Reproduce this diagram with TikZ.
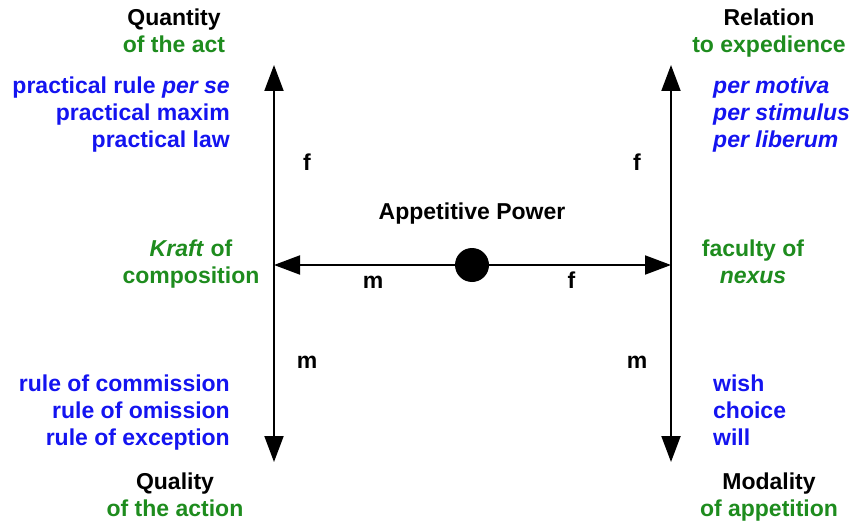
\documentclass[tikz,border=0pt]{standalone}
\usepackage{fontspec}
\setmainfont{Liberation Sans}
\usetikzlibrary{arrows.meta}

\definecolor{itemblue}{RGB}{20,20,240}
\definecolor{sidegreen}{RGB}{30,140,30}

\tikzset{
  lbl/.style={font=\fontsize{23pt}{27pt}\selectfont\bfseries, inner sep=0pt},
  axis/.style={line width=2pt, -{Triangle[length=26pt,width=19pt]}},
}

\begin{document}
\begin{tikzpicture}[x=1pt, y=-1pt]
  \useasboundingbox (0,0) rectangle (854,524);
  % centre of the power and the ends of the two axes
  \node[circle, fill, minimum size=34pt, inner sep=0pt] (power) at (472,265) {};
  \node[lbl, anchor=north] (powername) at (472,203) {Appetitive Power};
  \coordinate (left) at (274,265);
  \coordinate (right) at (671,265);
  \coordinate (lefttop) at (274,65);
  \coordinate (leftbot) at (274,462);
  \coordinate (righttop) at (671,65);
  \coordinate (rightbot) at (671,462);

  \draw[axis] (power.center) -- node[lbl, anchor=base, yshift=-23pt] (hm) {m} (left);
  \draw[axis] (power.center) -- node[lbl, anchor=base, yshift=-23pt] (hf) {f} (right);
  \draw[axis] (left) -- node[lbl, anchor=base, xshift=33pt, yshift=-6pt] (lf) {f} (lefttop);
  \draw[axis] (left) -- node[lbl, anchor=base, xshift=33pt, yshift=-5pt] (lm) {m} (leftbot);
  \draw[axis] (right) -- node[lbl, anchor=base, xshift=-34pt, yshift=-6pt] (rf) {f} (righttop);
  \draw[axis] (right) -- node[lbl, anchor=base, xshift=-34pt, yshift=-5pt] (rm) {m} (rightbot);

  % headings
  \node[lbl, anchor=north, align=center] (quantity) at (174,9)
    {Quantity\\\textcolor{sidegreen}{of the act}};
  \node[lbl, anchor=north, align=center] (relation) at (769,9)
    {Relation\\\textcolor{sidegreen}{to expedience}};
  \node[lbl, anchor=north, align=center] (quality) at (175,473)
    {Quality\\\textcolor{sidegreen}{of the action}};
  \node[lbl, anchor=north, align=center] (modality) at (769,473)
    {Modality\\\textcolor{sidegreen}{of appetition}};

  % the two faculties
  \node[lbl, anchor=north, align=center, text=sidegreen] (kraft) at (191,240)
    {\textit{Kraft} of\\composition};
  \node[lbl, anchor=north, align=center, text=sidegreen] (nexus) at (753,240)
    {faculty of\\\textit{nexus}};

  % lists
  \node[lbl, anchor=north east, align=right, text=itemblue] (rules) at (230,77)
    {practical rule \textit{per se}\\practical maxim\\practical law};
  \node[lbl, anchor=north west, align=left, text=itemblue] (motives) at (713,77)
    {\textit{per motiva}\\\textit{per stimulus}\\\textit{per liberum}};
  \node[lbl, anchor=north east, align=right, text=itemblue] (kinds) at (230,375)
    {rule of commission\\rule of omission\\rule of exception};
  \node[lbl, anchor=north west, align=left, text=itemblue] (wills) at (713,375)
    {wish\\choice\\will};
\end{tikzpicture}
\end{document}
